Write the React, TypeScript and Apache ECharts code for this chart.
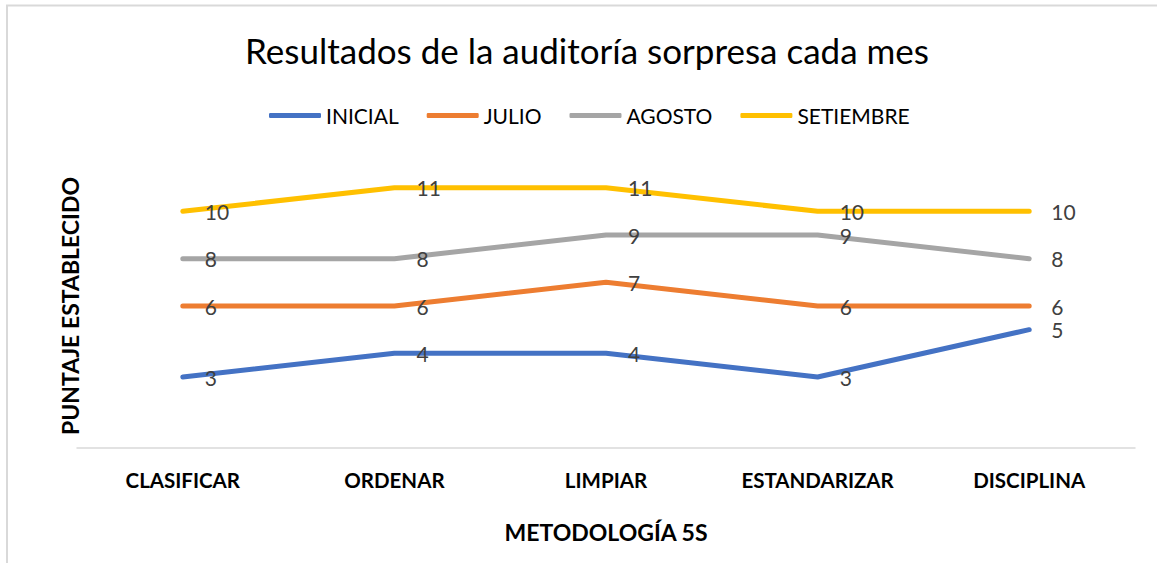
import React, { useEffect, useRef } from "react";
import * as echarts from "echarts";

const categories = ["CLASIFICAR", "ORDENAR", "LIMPIAR", "ESTANDARIZAR", "DISCIPLINA"];
const inicial = [3, 4, 4, 3, 5];
const julio = [6, 6, 7, 6, 6];
const agosto = [8, 8, 9, 9, 8];
const setiembre = [10, 11, 11, 10, 10];
const seriesNames = ["INICIAL", "JULIO", "AGOSTO", "SETIEMBRE"];
const seriesColors = ["#4472C4", "#ED7D31", "#A5A5A5", "#FFC000"];
const seriesData = [inicial, julio, agosto, setiembre];

const FONT = "Lato, 'Open Sans', sans-serif";

// nudge data labels apart slightly where two series differ by one unit
function buildData(i: number) {
  return seriesData[i].map((v, j) => {
    const others = seriesData.filter((_, k) => k !== i).map((s) => s[j]);
    let dy = 0;
    if (others.includes(v + 1)) dy += 2;
    if (others.includes(v - 1)) dy -= 2;
    return dy === 0 ? v : { value: v, label: { offset: [0, dy] } };
  });
}

export default function App() {
  const ref = useRef<HTMLDivElement>(null);
  useEffect(() => {
    document.body.style.margin = "0";
    const chart = echarts.init(ref.current!, null, { renderer: "svg" });
    chart.setOption({
      animation: false,
      backgroundColor: "#ffffff",
      textStyle: { fontFamily: FONT },
      title: {
        text: "Resultados de la auditoría sorpresa cada mes",
        left: 240,
        top: 27,
        textStyle: { fontFamily: FONT, fontSize: 35, fontWeight: "normal", color: "#000000" },
      },
      legend: {
        top: 100,
        left: 264,
        icon: "roundRect",
        itemWidth: 52,
        itemHeight: 5,
        itemGap: 28,
        textStyle: { fontFamily: FONT, fontSize: 21, color: "#000000" },
        data: seriesNames.map((name, i) => ({ name, itemStyle: { color: seriesColors[i], opacity: 1 } })),
      },
      grid: { left: 77, right: 22, top: 164, bottom: 115, containLabel: false },
      xAxis: {
        type: "category",
        data: categories,
        boundaryGap: true,
        axisLine: { show: true, lineStyle: { color: "#d9d9d9", width: 1.5 } },
        axisTick: { show: false },
        axisLabel: {
          margin: 21,
          fontFamily: FONT,
          fontSize: 20.5,
          fontWeight: "bold",
          color: "#000000",
        },
        name: "METODOLOGÍA 5S",
        nameLocation: "middle",
        nameGap: 72,
        nameTextStyle: { fontFamily: FONT, fontSize: 23, fontWeight: "bold", color: "#000000" },
      },
      yAxis: {
        type: "value",
        min: 0,
        max: 12,
        axisLine: { show: false },
        axisTick: { show: false },
        axisLabel: { show: false },
        splitLine: { show: false },
        name: "PUNTAJE ESTABLECIDO",
        nameLocation: "middle",
        nameRotate: 90,
        nameGap: -4,
        nameTextStyle: { fontFamily: FONT, fontSize: 23, fontWeight: "bold", color: "#000000" },
      },
      graphic: [
        {
          type: "rect",
          shape: { x: 7, y: 5.5, width: 1200, height: 600 },
          style: { fill: "none", stroke: "#d9d9d9", lineWidth: 2 },
          silent: true,
          z: -1,
        },
      ],
      series: seriesNames.map((name, i) => ({
        name,
        type: "line",
        data: buildData(i),
        symbol: "circle",
        symbolSize: 0.1,
        showSymbol: true,
        itemStyle: { color: seriesColors[i] },
        color: seriesColors[i],
        lineStyle: { width: 5, color: seriesColors[i], cap: "round", join: "round" },
        label: {
          show: true,
          position: "right",
          distance: 22,
          fontFamily: FONT,
          fontSize: 21,
          lineHeight: 18,
          color: "#404040",
        },
        labelLayout: { hideOverlap: false },
      })),
    });
    return () => chart.dispose();
  }, []);
  return <div ref={ref} style={{ width: 1157, height: 563 }} />;
}
